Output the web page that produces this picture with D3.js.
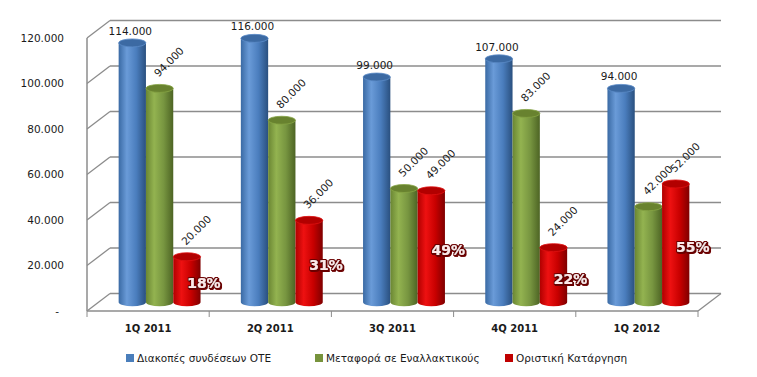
<!DOCTYPE html>
<html>
<head>
<meta charset="utf-8">
<script src="https://cdn.jsdelivr.net/npm/d3@7"></script>
<style>
  body { margin: 0; background: #fff; }
  svg text { font-family: "DejaVu Sans", Verdana, sans-serif; fill: #1a1a1a; }
</style>
</head>
<body>
<div id="chart"></div>
<script>
var categories = ['1Q 2011', '2Q 2011', '3Q 2011', '4Q 2011', '1Q 2012'];
var seriesNames = ['Διακοπές συνδέσεων ΟΤΕ', 'Μεταφορά σε Εναλλακτικούς', 'Οριστική Κατάργηση'];
var disconnections = [114000, 116000, 99000, 107000, 94000];
var transfers = [94000, 80000, 50000, 83000, 42000];
var cancellations = [20000, 36000, 49000, 24000, 52000];
var pctLabels = ['18%', '31%', '49%', '22%', '55%'];
var yTicks = [0, 20000, 40000, 60000, 80000, 100000, 120000];

var width = 757;
var height = 377;

// depth of the 3d box, bars sit halfway
var depthX = 23;
var depthY = -17.5;

var svg = d3.select('#chart')
    .append('svg')
    .attr('width', width)
    .attr('height', height);

var xScale = d3.scaleBand()
    .domain(categories)
    .range([87, 698]);

var yScale = d3.scaleLinear()
    .domain([0, 120000])
    .range([311, 38]);

var fmt = function (v) {
    if (v === 0) return '-';
    return d3.format(',')(v).replace(/,/g, '.');
};

var gridColor = '#8c8c8c';

// back wall gridlines + left diagonals
yTicks.forEach(function (t) {
    var y = yScale(t);
    svg.append('line')
        .attr('x1', 87).attr('y1', y)
        .attr('x2', 87 + depthX).attr('y2', y + depthY)
        .attr('stroke', gridColor).attr('stroke-width', 1.3);
    svg.append('line')
        .attr('x1', 87 + depthX).attr('y1', y + depthY)
        .attr('x2', 698 + depthX).attr('y2', y + depthY)
        .attr('stroke', gridColor).attr('stroke-width', 1.5);
    svg.append('text')
        .attr('x', t === 0 ? 59 : 64)
        .attr('y', y)
        .attr('dy', '0.35em')
        .attr('text-anchor', 'end')
        .style('font-size', '10.5px')
        .text(fmt(t));
});

// floor right edge
svg.append('line')
    .attr('x1', 698).attr('y1', yScale(0))
    .attr('x2', 698 + depthX).attr('y2', yScale(0) + depthY)
    .attr('stroke', gridColor).attr('stroke-width', 1.3);

// front axes
svg.append('line')
    .attr('x1', 87).attr('y1', yScale(120000))
    .attr('x2', 87).attr('y2', yScale(0))
    .attr('stroke', gridColor).attr('stroke-width', 1.5);
svg.append('line')
    .attr('x1', 87).attr('y1', yScale(0))
    .attr('x2', 698).attr('y2', yScale(0))
    .attr('stroke', gridColor).attr('stroke-width', 1.5);

var tickXs = categories.map(function (c) { return xScale(c); }).concat([698]);
tickXs.forEach(function (x) {
    svg.append('line')
        .attr('x1', x).attr('y1', yScale(0))
        .attr('x2', x).attr('y2', yScale(0) + 6)
        .attr('stroke', gridColor).attr('stroke-width', 1);
});

svg.selectAll('text.cat')
    .data(categories)
    .enter()
    .append('text')
    .attr('class', 'cat')
    .attr('x', function (d) { return xScale(d) + xScale.bandwidth() / 2; })
    .attr('y', 332)
    .attr('text-anchor', 'middle')
    .style('font-size', '10px')
    .style('font-weight', 'bold')
    .text(function (d) { return d; });

// gradients for cylinders
var palettes = [
    { stops: ['#3a6aa4', '#6a9bd8', '#4a7dbd', '#2a507f'], top: '#3c6aa3', rim: '#5c8cc8', key: '#4a7ebb' },
    { stops: ['#6a8633', '#93b350', '#779540', '#4d6424'], top: '#68822f', rim: '#86a445', key: '#77933c' },
    { stops: ['#b00000', '#ee1111', '#c80000', '#7f0000'], top: '#b20000', rim: '#e01010', key: '#c00000' }
];

var defs = svg.append('defs');
palettes.forEach(function (p, i) {
    var g = defs.append('linearGradient')
        .attr('id', 'cyl' + i)
        .attr('x1', '0%').attr('x2', '100%')
        .attr('y1', '0%').attr('y2', '0%');
    [0, 30, 65, 100].forEach(function (o, j) {
        g.append('stop').attr('offset', o + '%').attr('stop-color', p.stops[j]);
    });
});

var glow = defs.append('filter').attr('id', 'outline')
    .attr('x', '-20%').attr('y', '-30%').attr('width', '140%').attr('height', '160%');
glow.append('feMorphology').attr('in', 'SourceAlpha').attr('operator', 'dilate').attr('radius', 1.2).attr('result', 'd');
glow.append('feFlood').attr('flood-color', '#6b0000');
glow.append('feComposite').attr('in2', 'd').attr('operator', 'in').attr('result', 'o');
glow.append('feOffset').attr('in', 'o').attr('dx', 1).attr('dy', 1).attr('result', 'o2');
var merge = glow.append('feMerge');
merge.append('feMergeNode').attr('in', 'o2');
merge.append('feMergeNode').attr('in', 'o');
merge.append('feMergeNode').attr('in', 'SourceGraphic');

var allSeries = [disconnections, transfers, cancellations];
var barW = 27.3;
var ry = 4;
var midX = depthX / 2;
var midY = depthY / 2;

var xInner = d3.scaleBand()
    .domain([0, 1, 2])
    .range([-1.5 * barW, 1.5 * barW]);

var barCenter = function (cat, s) {
    return xScale(cat) + xScale.bandwidth() / 2 + midX + xInner(s) + barW / 2;
};
var yMid = function (v) {
    return yScale(v) + midY;
};

categories.forEach(function (cat, ci) {
    allSeries.forEach(function (vals, s) {
        var cx = barCenter(cat, s);
        var top = yMid(vals[ci]);
        var base = yMid(0);
        var x0 = cx - barW / 2;
        var x1 = cx + barW / 2;
        var g = svg.append('g');
        g.append('path')
            .attr('d', 'M' + x0 + ',' + top + ' L' + x0 + ',' + base +
                ' A' + (barW / 2) + ',' + ry + ' 0 0 0 ' + x1 + ',' + base +
                ' L' + x1 + ',' + top + ' Z')
            .attr('fill', 'url(#cyl' + s + ')');
        g.append('ellipse')
            .attr('cx', cx).attr('cy', top)
            .attr('rx', barW / 2).attr('ry', ry)
            .attr('fill', palettes[s].top)
            .attr('stroke', palettes[s].rim)
            .attr('stroke-width', 0.8);
    });
});

// value labels
categories.forEach(function (cat, ci) {
    var cx = barCenter(cat, 0);
    svg.append('text')
        .attr('x', cx - 2)
        .attr('y', yMid(disconnections[ci]) - 8)
        .attr('text-anchor', 'middle')
        .style('font-size', '10.5px')
        .text(fmt(disconnections[ci]));
    [transfers, cancellations].forEach(function (vals, k) {
        var bx = barCenter(cat, k + 1);
        var by = yMid(vals[ci]) - 11;
        svg.append('text')
            .attr('transform', 'translate(' + (bx - 1) + ',' + by + ') rotate(-45)')
            .style('font-size', '10.5px')
            .text(fmt(vals[ci]));
    });
    var rx = barCenter(cat, 2) + 17;
    var ryy = (yMid(cancellations[ci]) + yMid(0)) / 2 + 4;
    svg.append('text')
        .attr('x', rx)
        .attr('y', ryy)
        .attr('dy', '0.35em')
        .attr('text-anchor', 'middle')
        .attr('filter', 'url(#outline)')
        .style('font-size', '14px')
        .style('font-weight', 'bold')
        .style('fill', '#fde8e8')
        .text(pctLabels[ci]);
});

// legend
var legendX = [126, 315, 505];
seriesNames.forEach(function (name, i) {
    svg.append('rect')
        .attr('x', legendX[i]).attr('y', 354)
        .attr('width', 8).attr('height', 8)
        .attr('fill', palettes[i].key);
    svg.append('text')
        .attr('x', legendX[i] + 11)
        .attr('y', 362)
        .style('font-size', '10.5px')
        .text(name);
});
</script>
</body>
</html>
